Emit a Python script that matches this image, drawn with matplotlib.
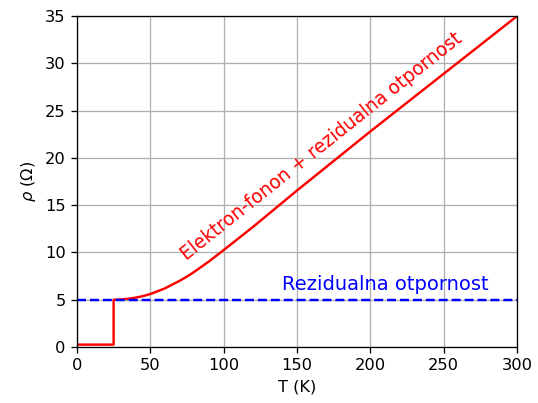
import matplotlib
matplotlib.use("Agg")
import matplotlib.pyplot as plt

# Data
T_low = [0, 25, 25]
rho_low = [0.25, 0.25, 5.0]
T_curve = [25, 30, 35, 40, 45, 50, 60, 70, 75, 80, 90, 100, 120, 150, 200, 250, 300]
rho_curve = [5.0, 5.03, 5.1, 5.22, 5.38, 5.6, 6.2, 7.0, 7.45, 7.95, 9.05, 10.25, 12.7, 16.55, 22.8, 28.9, 35.0]
rho_residual = 5.0
x_ticks = [0, 50, 100, 150, 200, 250, 300]
y_ticks = [0, 5, 10, 15, 20, 25, 30, 35]

DPI = 117
fig = plt.figure(figsize=(538 / DPI, 403 / DPI), dpi=DPI)
ax = fig.add_axes([0.143, 0.139, 0.818, 0.821])

ax.plot(T_low + T_curve[1:], rho_low + rho_curve[1:], color='red', lw=1.5)
ax.axhline(rho_residual, color='blue', ls='--', lw=1.5)

ax.text(140, 6.0, 'Rezidualna otpornost', color='blue', fontsize=12)
ax.text(75, 9.1, 'Elektron-fonon + rezidualna otpornost', color='red', fontsize=11.4,
        rotation=38.5, rotation_mode='anchor', ha='left', va='baseline')

ax.set_xlim(0, 300)
ax.set_ylim(0, 35)
ax.set_xticks(x_ticks)
ax.set_yticks(y_ticks)
ax.grid(True, color='#b0b0b0', lw=0.8)
ax.set_xlabel('T (K)')
ax.set_ylabel(r'$\rho$ ($\Omega$)')

fig.savefig('out.png', dpi=DPI)
